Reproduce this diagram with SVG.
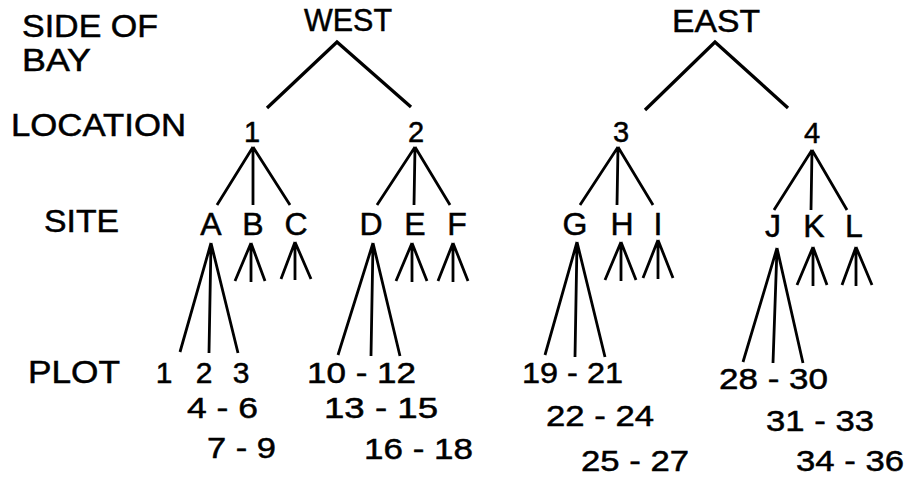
<svg xmlns="http://www.w3.org/2000/svg" width="911" height="480" viewBox="0 0 911 480">
  <style>
    text { font-family: "Liberation Sans", Arial, Helvetica, sans-serif; fill: #000; stroke: #000; stroke-width: 0.5; }
    .fit { lengthAdjust: spacingAndGlyphs; }
    .lvl { font-size: 31px; }
    .top { font-size: 31px; }
    .loc { font-size: 29px; text-anchor: middle; }
    .site { font-size: 32px; text-anchor: middle; }
    .plot { font-size: 30px; }
    .edge { stroke: #000; stroke-width: 2.8; fill: none; stroke-linecap: butt; }
    .edge-top { stroke-width: 3.3; }
  </style>
  <rect width="911" height="480" fill="#fff"/>

  <!-- level captions on the left -->
  <g id="level-side">
    <text class="lvl" x="22" y="37" textLength="136" lengthAdjust="spacingAndGlyphs">SIDE OF</text>
    <text class="lvl" x="22" y="71" textLength="69" lengthAdjust="spacingAndGlyphs">BAY</text>
  </g>
  <g id="level-location"><text class="lvl" x="11" y="136" textLength="175" lengthAdjust="spacingAndGlyphs">LOCATION</text></g>
  <g id="level-site"><text class="lvl" x="44" y="232" textLength="75" lengthAdjust="spacingAndGlyphs">SITE</text></g>
  <g id="level-plot"><text class="lvl" x="28" y="383" textLength="92" lengthAdjust="spacingAndGlyphs">PLOT</text></g>

  <!-- connectors -->
  <g id="connectors" class="edge">
    <!-- side of bay to location -->
    <polyline class="edge-top" points="267,108 337,42 411,107"/>
    <polyline class="edge-top" points="645,110 715,42 788,108"/>
    <!-- location to site -->
    <path d="M253,147 L217,205 M253,147 L253,205 M253,147 L290,205"/>
    <path d="M415,147 L377,205 M415,147 L414,205 M415,147 L450,205"/>
    <path d="M618,147 L580,205 M618,147 L617,205 M618,147 L653,205"/>
    <path d="M812,150 L774,210 M812,150 L811,210 M812,150 L847,210"/>
    <!-- site to plots (labelled) -->
    <path d="M211,243 L180,352 M211,243 L209,353 M211,243 L238,353"/>
    <path d="M373,243 L338,355 M373,243 L371,356 M373,243 L400,356"/>
    <path d="M577,242 L545,355 M577,242 L575,357 M577,242 L605,357"/>
    <path d="M777,248 L743,362 M777,248 L773,363 M777,248 L803,363"/>
    <!-- site to plots (short fans) -->
    <path d="M251,243 L235,281 M251,243 L251,282 M251,243 L265,281"/>
    <path d="M295,242 L281,279 M295,242 L295,280 M295,242 L311,279"/>
    <path d="M412,243 L396,281 M412,243 L412,282 M412,243 L427,281"/>
    <path d="M453,243 L438,281 M453,243 L453,282 M453,243 L468,281"/>
    <path d="M621,242 L605,280 M621,242 L621,281 M621,242 L636,280"/>
    <path d="M658,240 L643,278 M658,240 L658,279 M658,240 L673,278"/>
    <path d="M813,247 L797,285 M813,247 L813,286 M813,247 L827,285"/>
    <path d="M856,247 L842,285 M856,247 L856,286 M856,247 L872,285"/>
  </g>

  <!-- side of bay -->
  <g id="node-west"><text class="top" x="304" y="31" textLength="88" lengthAdjust="spacingAndGlyphs">WEST</text></g>
  <g id="node-east"><text class="top" x="672" y="32" textLength="88" lengthAdjust="spacingAndGlyphs">EAST</text></g>

  <!-- locations -->
  <g id="node-loc-1"><text class="loc" x="252" y="142">1</text></g>
  <g id="node-loc-2"><text class="loc" x="416" y="142">2</text></g>
  <g id="node-loc-3"><text class="loc" x="621" y="142">3</text></g>
  <g id="node-loc-4"><text class="loc" x="812" y="143">4</text></g>

  <!-- sites -->
  <g id="node-site-a"><text class="site" x="211" y="235">A</text></g>
  <g id="node-site-b"><text class="site" x="253" y="235">B</text></g>
  <g id="node-site-c"><text class="site" x="296" y="235">C</text></g>
  <g id="node-site-d"><text class="site" x="371" y="235">D</text></g>
  <g id="node-site-e"><text class="site" x="415" y="235">E</text></g>
  <g id="node-site-f"><text class="site" x="457" y="235">F</text></g>
  <g id="node-site-g"><text class="site" x="575" y="235">G</text></g>
  <g id="node-site-h"><text class="site" x="622" y="235">H</text></g>
  <g id="node-site-i"><text class="site" x="658" y="235">I</text></g>
  <g id="node-site-j"><text class="site" x="773" y="237">J</text></g>
  <g id="node-site-k"><text class="site" x="814" y="237">K</text></g>
  <g id="node-site-l"><text class="site" x="854" y="237">L</text></g>

  <!-- plots -->
  <g id="node-plots-a">
    <text class="plot" x="164" y="383" text-anchor="middle">1</text>
    <text class="plot" x="204" y="383" text-anchor="middle">2</text>
    <text class="plot" x="241" y="383" text-anchor="middle">3</text>
    <text class="plot" x="187" y="418" textLength="71" lengthAdjust="spacingAndGlyphs">4 - 6</text>
    <text class="plot" x="207" y="458" textLength="69" lengthAdjust="spacingAndGlyphs">7 - 9</text>
  </g>
  <g id="node-plots-d">
    <text class="plot" x="307" y="383" textLength="109" lengthAdjust="spacingAndGlyphs">10 - 12</text>
    <text class="plot" x="324" y="418" textLength="114" lengthAdjust="spacingAndGlyphs">13 - 15</text>
    <text class="plot" x="364" y="459" textLength="109" lengthAdjust="spacingAndGlyphs">16 - 18</text>
  </g>
  <g id="node-plots-g">
    <text class="plot" x="522" y="383" textLength="101" lengthAdjust="spacingAndGlyphs">19 - 21</text>
    <text class="plot" x="546" y="426" textLength="108" lengthAdjust="spacingAndGlyphs">22 - 24</text>
    <text class="plot" x="581" y="471" textLength="108" lengthAdjust="spacingAndGlyphs">25 - 27</text>
  </g>
  <g id="node-plots-j">
    <text class="plot" x="719" y="389" textLength="109" lengthAdjust="spacingAndGlyphs">28 - 30</text>
    <text class="plot" x="766" y="431" textLength="108" lengthAdjust="spacingAndGlyphs">31 - 33</text>
    <text class="plot" x="796" y="471" textLength="108" lengthAdjust="spacingAndGlyphs">34 - 36</text>
  </g>
</svg>
